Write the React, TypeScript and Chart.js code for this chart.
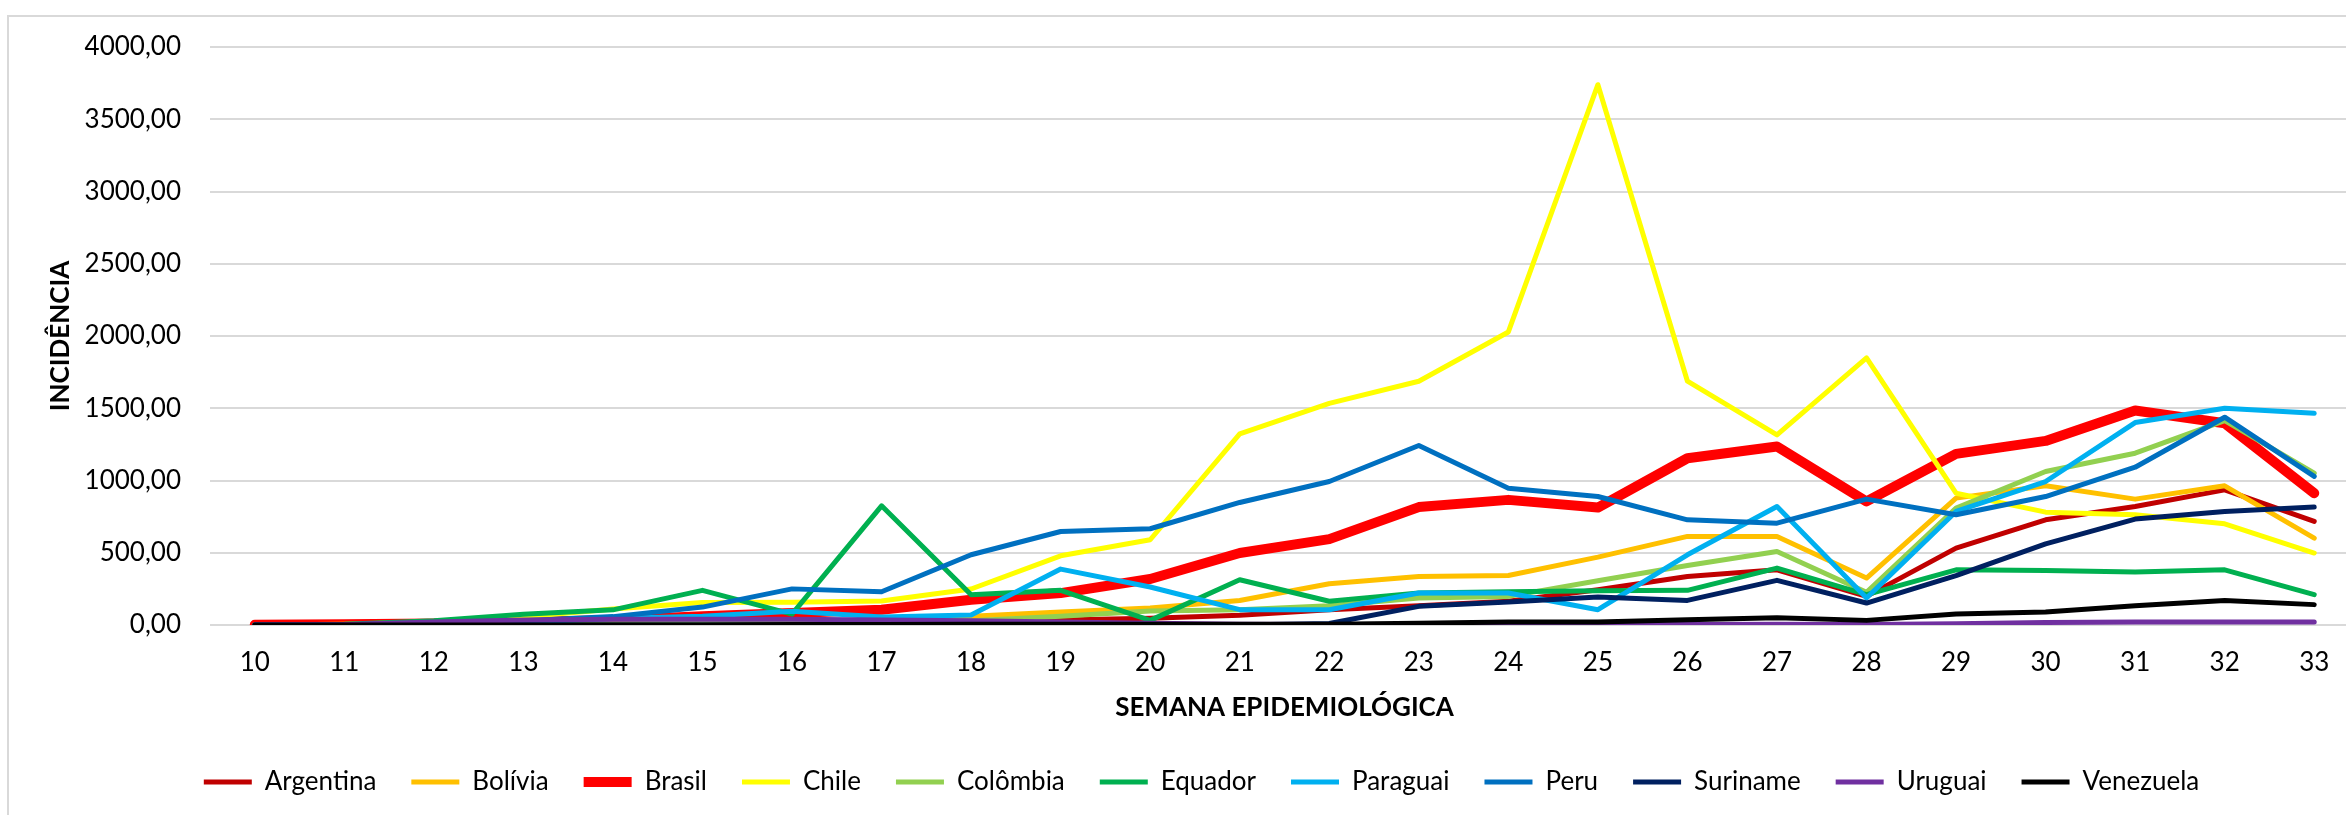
import React, { useEffect, useRef } from 'react';
import { Chart, registerables } from 'chart.js';

Chart.register(...registerables);

const weeks = ['10', '11', '12', '13', '14', '15', '16', '17', '18', '19', '20', '21', '22', '23', '24', '25', '26', '27', '28', '29', '30', '31', '32', '33'];

const argentina = [2, 3, 5, 8, 10, 15, 20, 20, 25, 35, 46, 67, 106, 134, 164, 244, 336, 382, 198, 532, 728, 820, 935, 717];
const bolivia = [0, 1, 3, 5, 8, 12, 20, 30, 60, 90, 118, 170, 286, 336, 343, 470, 613, 613, 325, 878, 963, 871, 963, 601];
const brasil = [2, 5, 10, 20, 35, 60, 83, 106, 175, 221, 318, 498, 594, 816, 866, 813, 1154, 1235, 855, 1184, 1274, 1484, 1396, 912];
const chile = [0, 5, 20, 55, 110, 155, 157, 166, 249, 479, 590, 1322, 1534, 1687, 2028, 3739, 1687, 1316, 1848, 912, 781, 763, 700, 498];
const colombia = [0, 1, 3, 5, 8, 12, 18, 22, 30, 60, 97, 106, 134, 187, 198, 306, 412, 509, 226, 809, 1062, 1189, 1415, 1051];
const equador = [0, 5, 30, 75, 105, 240, 75, 825, 210, 240, 32, 313, 164, 221, 230, 237, 240, 394, 210, 382, 378, 366, 382, 210];
const paraguai = [0, 2, 8, 20, 45, 60, 95, 55, 69, 387, 263, 106, 106, 221, 221, 106, 486, 820, 187, 786, 993, 1401, 1500, 1465];
const peru = [0, 2, 10, 30, 58, 124, 250, 230, 486, 647, 666, 848, 993, 1242, 947, 889, 728, 705, 871, 763, 889, 1092, 1438, 1028];
const suriname = [0, 0, 0, 0, 0, 0, 0, 0, 0, 0, 0, 0, 10, 129, 159, 194, 170, 309, 152, 341, 562, 733, 786, 816];
const uruguai = [0, 3, 20, 35, 40, 40, 40, 35, 30, 20, 12, 5, 3, 2, 2, 2, 4, 6, 3, 8, 18, 20, 20, 20];
const venezuela = [0, 0, 0, 0, 0, 0, 3, 4, 5, 5, 6, 6, 6, 12, 21, 21, 37, 51, 32, 76, 90, 134, 170, 141];

const seriesNames = ['Argentina', 'Bolívia', 'Brasil', 'Chile', 'Colômbia', 'Equador', 'Paraguai', 'Peru', 'Suriname', 'Uruguai', 'Venezuela'];
const seriesColors = ['#C00000', '#FFC000', '#FF0000', '#FFFF00', '#92D050', '#00B050', '#00B0F0', '#0070C0', '#002060', '#7030A0', '#000000'];
const seriesWidths = [5, 5, 10, 5, 5, 5, 5, 5, 5, 5, 5];

const yMin = 0;
const yMax = 4000;
const yStep = 500;

export default function App() {
  const ref = useRef<HTMLCanvasElement>(null);

  useEffect(() => {
    const series = [argentina, bolivia, brasil, chile, colombia, equador, paraguai, peru, suriname, uruguai, venezuela];
    const font = { family: 'Lato', size: 26 };
    const boldFont = { family: 'Lato', size: 26, weight: 'bold' as const };
    const chart = new Chart(ref.current as HTMLCanvasElement, {
      type: 'line',
      data: {
        labels: weeks,
        datasets: series.map((d, i) => ({
          label: seriesNames[i],
          data: d,
          borderColor: seriesColors[i],
          backgroundColor: seriesColors[i],
          borderWidth: seriesWidths[i],
          pointRadius: 0,
          pointHoverRadius: 0,
          pointStyle: 'line',
          borderCapStyle: 'round',
          borderJoinStyle: 'round',
          tension: 0,
          fill: false,
          order: series.length - i,
        })),
      },
      options: {
        responsive: false,
        animation: false,
        events: [],
        layout: { padding: { left: 44, right: 41, top: 47, bottom: 10 } },
        plugins: {
          legend: {
            position: 'bottom',
            labels: {
              usePointStyle: true,
              pointStyle: 'line',
              pointStyleWidth: 48,
              padding: 35,
              color: '#000',
              font,
              sort: (a: any, b: any) => a.datasetIndex - b.datasetIndex,
            },
          },
          tooltip: { enabled: false },
        },
        scales: {
          x: {
            offset: true,
            grid: { display: false, drawTicks: false, offset: true },
            border: { display: false },
            ticks: { color: '#000', font, padding: 22, autoSkip: false, maxRotation: 0 },
            title: {
              display: true,
              text: 'SEMANA EPIDEMIOLÓGICA',
              color: '#000',
              font: boldFont,
              padding: { top: 13, bottom: 11 },
            },
            afterFit: (s: any) => {
              s.height = 109;
            },
          },
          y: {
            min: yMin,
            max: yMax,
            ticks: {
              stepSize: yStep,
              padding: 29,
              color: '#000',
              font,
              callback: (v: any) => Number(v).toFixed(2).replace('.', ','),
            },
            grid: { color: '#d9d9d9', lineWidth: 2, drawTicks: false },
            border: { display: false },
            title: {
              display: true,
              text: 'INCIDÊNCIA',
              color: '#000',
              font: boldFont,
              padding: { top: 1, bottom: 0 },
            },
            afterFit: (s: any) => {
              s.width = 166;
            },
          },
        },
      },
    } as any);
    return () => chart.destroy();
  }, []);

  return (
    <div style={{ position: 'fixed', left: 0, top: 0, width: 2346, height: 815, overflow: 'hidden', background: '#fff' }}>
      <div style={{ position: 'absolute', left: 7, top: 15, width: 2600, height: 1000, border: '2px solid #d9d9d9', boxSizing: 'border-box' }} />
      <canvas ref={ref} width={2400} height={815} style={{ position: 'absolute', left: 0, top: 0, width: 2400, height: 815 }} />
    </div>
  );
}
